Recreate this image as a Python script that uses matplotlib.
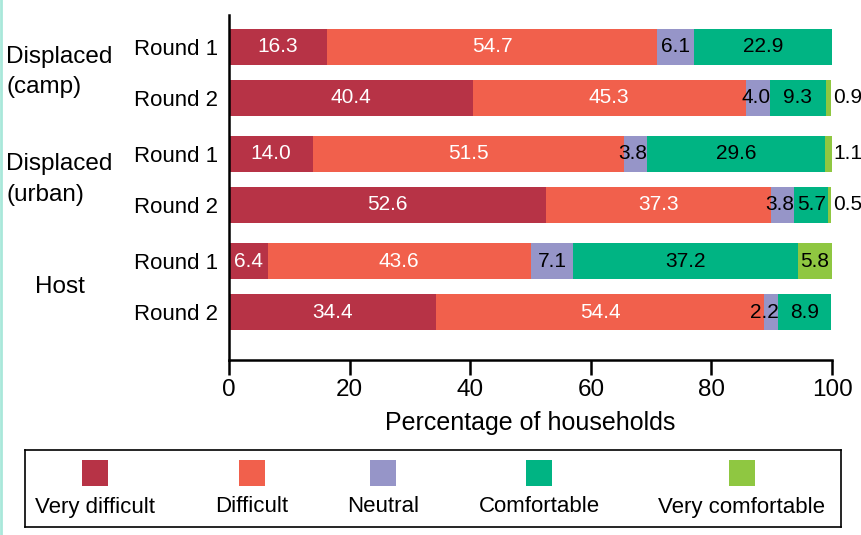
import numpy as np
import matplotlib.pyplot as plt
from matplotlib.patches import Rectangle
from matplotlib.lines import Line2D

plt.rcParams['font.family'] = ['Liberation Sans', 'DejaVu Sans']

# data
groups = ["Displaced\n(camp)", "Displaced\n(urban)", "Host"]
rounds = ["Round 1", "Round 2", "Round 1", "Round 2", "Round 1", "Round 2"]
categories = ["Very difficult", "Difficult", "Neutral", "Comfortable", "Very comfortable"]
very_difficult = [16.3, 40.4, 14.0, 52.6, 6.4, 34.4]
difficult = [54.7, 45.3, 51.5, 37.3, 43.6, 54.4]
neutral = [6.1, 4.0, 3.8, 3.8, 7.1, 2.2]
comfortable = [22.9, 9.3, 29.6, 5.7, 37.2, 8.9]
very_comfortable = [0.0, 0.9, 1.1, 0.5, 5.8, 0.0]
colors = ["#B73346", "#F1604C", "#9695C8", "#00B483", "#8FC741"]
text_colors = ["white", "white", "black", "black", "black"]

series = [very_difficult, difficult, neutral, comfortable, very_comfortable]
ypos = np.array([0, 1, 2.1, 3.1, 4.2, 5.2])

fig = plt.figure(figsize=(8.62, 5.35), dpi=100)
ax = fig.add_axes([0.2657, 0.327, 0.6995, 0.645])

left = np.zeros(len(ypos))
for vals, col, tcol in zip(series, colors, text_colors):
    vals = np.array(vals)
    ax.barh(ypos, vals, left=left, height=0.71, color=col, linewidth=0)
    for y, v, l in zip(ypos, vals, left):
        if v <= 0:
            continue
        if v < 2:
            ax.text(l + v + 0.3, y, f"{v:.1f}", ha="left", va="center",
                    color="black", fontsize=15)
        elif v < 5:
            ax.text(l + v + 0.1, y, f"{v:.1f}", ha="right", va="center",
                    color=tcol, fontsize=15)
        else:
            ax.text(l + v / 2, y, f"{v:.1f}", ha="center", va="center",
                    color=tcol, fontsize=15)
    left += vals

ax.set_xlim(0, 100)
ax.set_ylim(6.14, -0.62)
ax.set_yticks(ypos)
ax.set_yticklabels(rounds, fontsize=16)
ax.tick_params(axis="y", length=0, pad=8)
ax.set_xticks([0, 20, 40, 60, 80, 100])
ax.tick_params(axis="x", length=11, width=1.8, direction="out", labelsize=17.5, pad=3)
ax.set_xlabel("Percentage of households", fontsize=18, labelpad=7)
for s in ["top", "right"]:
    ax.spines[s].set_visible(False)
for s in ["left", "bottom"]:
    ax.spines[s].set_linewidth(1.8)

# group labels
group_mid = [(ypos[0] + ypos[1]) / 2, (ypos[2] + ypos[3]) / 2, (ypos[4] + ypos[5]) / 2]
for g, ym in zip(groups, group_mid):
    ax.text(-0.281, ym, g, transform=ax.get_yaxis_transform(), ha="center",
            va="center", multialignment="left", fontsize=17.5, linespacing=1.5)

# legend box
lax = fig.add_axes([25 / 862, 8 / 535, 816 / 862, 77 / 535])
lax.set_xlim(0, 816)
lax.set_ylim(0, 77)
lax.set_xticks([])
lax.set_yticks([])
for s in lax.spines.values():
    s.set_linewidth(1.2)
centers = [70, 227, 358, 514, 717]
for c, name, col in zip(centers, categories, colors):
    lax.add_patch(Rectangle((c - 13, 41), 26, 26, color=col, linewidth=0))
    lax.text(c, 20, name, ha="center", va="center", fontsize=16)

# thin aqua line at the left edge
fig.add_artist(Line2D([0.001, 0.001], [0, 1], color="#A9E8DA", linewidth=2,
                      transform=fig.transFigure))

fig.savefig("out.png", dpi=100)
